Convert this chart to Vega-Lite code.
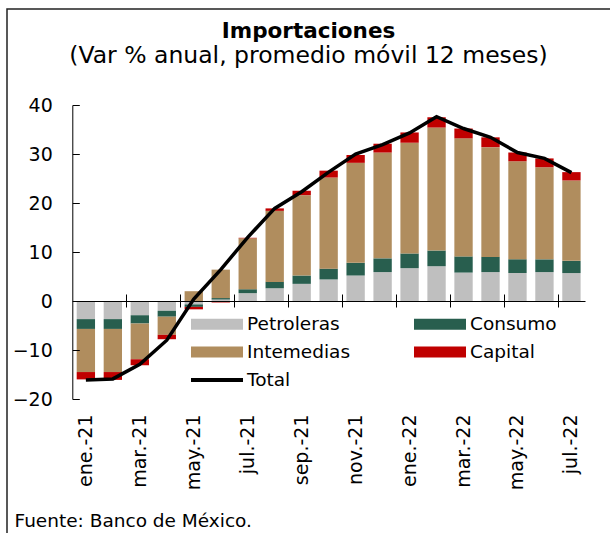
{
  "$schema": "https://vega.github.io/schema/vega-lite/v6.json",
  "width": 603,
  "height": 524,
  "autosize": {"type": "none"},
  "padding": {"left": 7, "top": 9, "right": 0, "bottom": 0},
  "background": "white",
  "view": {"stroke": "#222222", "strokeWidth": 1.5, "strokeDash": [603, 1127, 524], "fill": null},
  "config": {"font": "DejaVu Sans"},
  "title": {
    "text": "Importaciones",
    "subtitle": "(Var % anual, promedio móvil 12 meses)",
    "anchor": "middle",
    "frame": "group",
    "offset": -58,
    "font": "DejaVu Sans",
    "fontSize": 21.5,
    "fontWeight": "bold",
    "color": "black",
    "subtitleFont": "DejaVu Sans",
    "subtitleFontSize": 23.5,
    "subtitleColor": "black",
    "subtitlePadding": 1
  },
  "datasets": {
    "bars": [
      {"mes": "ene.-21", "serie": "Petroleras", "v": -3.7, "o": 1},
      {"mes": "ene.-21", "serie": "Consumo", "v": -2.0, "o": 2},
      {"mes": "ene.-21", "serie": "Intemedias", "v": -8.8, "o": 3},
      {"mes": "ene.-21", "serie": "Capital", "v": -1.5, "o": 4},
      {"mes": "feb.-21", "serie": "Petroleras", "v": -3.7, "o": 1},
      {"mes": "feb.-21", "serie": "Consumo", "v": -2.0, "o": 2},
      {"mes": "feb.-21", "serie": "Intemedias", "v": -8.8, "o": 3},
      {"mes": "feb.-21", "serie": "Capital", "v": -1.6, "o": 4},
      {"mes": "mar.-21", "serie": "Petroleras", "v": -2.9, "o": 1},
      {"mes": "mar.-21", "serie": "Consumo", "v": -1.7, "o": 2},
      {"mes": "mar.-21", "serie": "Intemedias", "v": -7.3, "o": 3},
      {"mes": "mar.-21", "serie": "Capital", "v": -1.2, "o": 4},
      {"mes": "abr.-21", "serie": "Petroleras", "v": -2.0, "o": 1},
      {"mes": "abr.-21", "serie": "Consumo", "v": -1.2, "o": 2},
      {"mes": "abr.-21", "serie": "Intemedias", "v": -3.7, "o": 3},
      {"mes": "abr.-21", "serie": "Capital", "v": -0.9, "o": 4},
      {"mes": "may.-21", "serie": "Petroleras", "v": -0.7, "o": 1},
      {"mes": "may.-21", "serie": "Consumo", "v": -0.5, "o": 2},
      {"mes": "may.-21", "serie": "Intemedias", "v": 2.0, "o": 3},
      {"mes": "may.-21", "serie": "Capital", "v": -0.5, "o": 4},
      {"mes": "jun.-21", "serie": "Petroleras", "v": 0.3, "o": 1},
      {"mes": "jun.-21", "serie": "Consumo", "v": 0.3, "o": 2},
      {"mes": "jun.-21", "serie": "Intemedias", "v": 5.8, "o": 3},
      {"mes": "jun.-21", "serie": "Capital", "v": -0.3, "o": 4},
      {"mes": "jul.-21", "serie": "Petroleras", "v": 1.6, "o": 1},
      {"mes": "jul.-21", "serie": "Consumo", "v": 0.8, "o": 2},
      {"mes": "jul.-21", "serie": "Intemedias", "v": 10.4, "o": 3},
      {"mes": "jul.-21", "serie": "Capital", "v": 0.1, "o": 4},
      {"mes": "ago.-21", "serie": "Petroleras", "v": 2.6, "o": 1},
      {"mes": "ago.-21", "serie": "Consumo", "v": 1.3, "o": 2},
      {"mes": "ago.-21", "serie": "Intemedias", "v": 14.5, "o": 3},
      {"mes": "ago.-21", "serie": "Capital", "v": 0.5, "o": 4},
      {"mes": "sep.-21", "serie": "Petroleras", "v": 3.5, "o": 1},
      {"mes": "sep.-21", "serie": "Consumo", "v": 1.7, "o": 2},
      {"mes": "sep.-21", "serie": "Intemedias", "v": 16.4, "o": 3},
      {"mes": "sep.-21", "serie": "Capital", "v": 0.9, "o": 4},
      {"mes": "oct.-21", "serie": "Petroleras", "v": 4.4, "o": 1},
      {"mes": "oct.-21", "serie": "Consumo", "v": 2.2, "o": 2},
      {"mes": "oct.-21", "serie": "Intemedias", "v": 18.6, "o": 3},
      {"mes": "oct.-21", "serie": "Capital", "v": 1.4, "o": 4},
      {"mes": "nov.-21", "serie": "Petroleras", "v": 5.2, "o": 1},
      {"mes": "nov.-21", "serie": "Consumo", "v": 2.6, "o": 2},
      {"mes": "nov.-21", "serie": "Intemedias", "v": 20.4, "o": 3},
      {"mes": "nov.-21", "serie": "Capital", "v": 1.6, "o": 4},
      {"mes": "dic.-21", "serie": "Petroleras", "v": 5.9, "o": 1},
      {"mes": "dic.-21", "serie": "Consumo", "v": 2.8, "o": 2},
      {"mes": "dic.-21", "serie": "Intemedias", "v": 21.6, "o": 3},
      {"mes": "dic.-21", "serie": "Capital", "v": 1.8, "o": 4},
      {"mes": "ene.-22", "serie": "Petroleras", "v": 6.7, "o": 1},
      {"mes": "ene.-22", "serie": "Consumo", "v": 3.0, "o": 2},
      {"mes": "ene.-22", "serie": "Intemedias", "v": 22.6, "o": 3},
      {"mes": "ene.-22", "serie": "Capital", "v": 2.1, "o": 4},
      {"mes": "feb.-22", "serie": "Petroleras", "v": 7.1, "o": 1},
      {"mes": "feb.-22", "serie": "Consumo", "v": 3.2, "o": 2},
      {"mes": "feb.-22", "serie": "Intemedias", "v": 25.1, "o": 3},
      {"mes": "feb.-22", "serie": "Capital", "v": 2.1, "o": 4},
      {"mes": "mar.-22", "serie": "Petroleras", "v": 5.8, "o": 1},
      {"mes": "mar.-22", "serie": "Consumo", "v": 3.3, "o": 2},
      {"mes": "mar.-22", "serie": "Intemedias", "v": 24.1, "o": 3},
      {"mes": "mar.-22", "serie": "Capital", "v": 2.0, "o": 4},
      {"mes": "abr.-22", "serie": "Petroleras", "v": 5.9, "o": 1},
      {"mes": "abr.-22", "serie": "Consumo", "v": 3.1, "o": 2},
      {"mes": "abr.-22", "serie": "Intemedias", "v": 22.4, "o": 3},
      {"mes": "abr.-22", "serie": "Capital", "v": 2.0, "o": 4},
      {"mes": "may.-22", "serie": "Petroleras", "v": 5.7, "o": 1},
      {"mes": "may.-22", "serie": "Consumo", "v": 2.8, "o": 2},
      {"mes": "may.-22", "serie": "Intemedias", "v": 20.0, "o": 3},
      {"mes": "may.-22", "serie": "Capital", "v": 1.8, "o": 4},
      {"mes": "jun.-22", "serie": "Petroleras", "v": 5.9, "o": 1},
      {"mes": "jun.-22", "serie": "Consumo", "v": 2.6, "o": 2},
      {"mes": "jun.-22", "serie": "Intemedias", "v": 18.8, "o": 3},
      {"mes": "jun.-22", "serie": "Capital", "v": 1.8, "o": 4},
      {"mes": "jul.-22", "serie": "Petroleras", "v": 5.7, "o": 1},
      {"mes": "jul.-22", "serie": "Consumo", "v": 2.5, "o": 2},
      {"mes": "jul.-22", "serie": "Intemedias", "v": 16.4, "o": 3},
      {"mes": "jul.-22", "serie": "Capital", "v": 1.7, "o": 4}
    ],
    "total": [
      {"mes": "ene.-21", "Total": -16.1},
      {"mes": "feb.-21", "Total": -15.9},
      {"mes": "mar.-21", "Total": -12.9},
      {"mes": "abr.-21", "Total": -8.0},
      {"mes": "may.-21", "Total": 0.4},
      {"mes": "jun.-21", "Total": 6.4},
      {"mes": "jul.-21", "Total": 13.0},
      {"mes": "ago.-21", "Total": 18.9},
      {"mes": "sep.-21", "Total": 22.3},
      {"mes": "oct.-21", "Total": 26.3},
      {"mes": "nov.-21", "Total": 30.0},
      {"mes": "dic.-21", "Total": 31.9},
      {"mes": "ene.-22", "Total": 34.3},
      {"mes": "feb.-22", "Total": 37.6},
      {"mes": "mar.-22", "Total": 35.2},
      {"mes": "abr.-22", "Total": 33.4},
      {"mes": "may.-22", "Total": 30.3},
      {"mes": "jun.-22", "Total": 29.1},
      {"mes": "jul.-22", "Total": 26.2}
    ]
  },
  "layer": [
    {
      "data": {"name": "bars"},
      "mark": {"type": "bar"},
      "encoding": {
        "x": {
          "field": "mes",
          "type": "nominal",
          "sort": null,
          "scale": {
            "domain": ["ene.-21", "feb.-21", "mar.-21", "abr.-21", "may.-21", "jun.-21", "jul.-21", "ago.-21", "sep.-21", "oct.-21", "nov.-21", "dic.-21", "ene.-22", "feb.-22", "mar.-22", "abr.-22", "may.-22", "jun.-22", "jul.-22"],
            "range": [65.3, 578],
            "paddingInner": 0.32,
            "paddingOuter": 0.163
          },
          "axis": {
            "orient": "bottom",
            "offset": -134,
            "values": ["ene.-21", "mar.-21", "may.-21", "jul.-21", "sep.-21", "nov.-21", "ene.-22", "mar.-22", "may.-22", "jul.-22"],
            "labelAngle": 270,
            "labelAlign": "right",
            "labelBaseline": "middle",
            "labelPadding": 15,
            "labelFont": "DejaVu Sans",
            "labelFontSize": 19,
            "labelColor": "black",
            "labelOverlap": false,
            "labelBound": false,
            "ticks": false,
            "tickSize": 0,
            "domain": false,
            "grid": false,
            "title": "Fuente: Banco de México.",
            "titleX": 7,
            "titleY": 127,
            "titleAnchor": "start",
            "titleAlign": "left",
            "titleBaseline": "alphabetic",
            "titleAngle": 0,
            "titleFont": "DejaVu Sans",
            "titleFontSize": 18.5,
            "titleFontWeight": "normal",
            "titleColor": "black"
          }
        },
        "y": {
          "field": "v",
          "type": "quantitative",
          "stack": "zero",
          "scale": {"domain": [-20, 40], "range": [390, 96], "nice": false},
          "axis": {
            "orient": "left",
            "offset": -65.3,
            "values": [-20, -10, 0, 10, 20, 30, 40],
            "tickSize": -7,
            "labelPadding": 27,
            "labelFont": "DejaVu Sans",
            "labelFontSize": 19,
            "labelColor": "black",
            "domainColor": "black",
            "tickColor": "black",
            "title": null,
            "grid": true,
            "gridColor": "black",
            "gridWidth": 1,
            "gridOpacity": {"condition": {"test": "datum.value === 0", "value": 1}, "value": 0},
            "zindex": 1
          }
        },
        "color": {
          "field": "serie",
          "type": "nominal",
          "scale": {
            "domain": ["Petroleras", "Consumo", "Intemedias", "Capital", "Total"],
            "range": ["#BFBFBF", "#285E4E", "#B08D5E", "#C00000", "#000000"]
          },
          "legend": {
            "orient": "none",
            "legendX": 184,
            "legendY": 302,
            "direction": "horizontal",
            "columns": 2,
            "title": null,
            "padding": 0,
            "labelFont": "DejaVu Sans",
            "labelFontSize": 18.5,
            "labelColor": "black",
            "symbolSize": 676,
            "symbolOffset": 13,
            "labelOffset": 17,
            "symbolType": "M-2,-0.42H2V0.42H-2Z",
            "symbolStrokeWidth": 0,
            "symbolOpacity": 1,
            "columnPadding": 63,
            "rowPadding": 5,
            "encode": {
              "symbols": {
                "update": {
                  "shape": {"signal": "datum.value === 'Total' ? 'M-2,-0.16H2V0.16H-2Z' : 'M-2,-0.42H2V0.42H-2Z'"}
                }
              }
            }
          }
        },
        "order": {"field": "o", "type": "quantitative"}
      }
    },
    {
      "data": {"name": "total"},
      "mark": {"type": "line", "color": "black", "strokeWidth": 3.5},
      "encoding": {
        "x": {
          "field": "mes",
          "type": "nominal",
          "sort": null,
          "axis": {
            "orient": "top",
            "offset": -298,
            "values": ["mar.-21", "may.-21", "jul.-21", "sep.-21", "nov.-21", "ene.-22", "mar.-22", "may.-22", "jul.-22"],
            "labels": false,
            "domain": false,
            "ticks": true,
            "tickSize": 13,
            "tickOffset": -13.49,
            "tickColor": "black",
            "tickWidth": 1,
            "grid": false,
            "title": null
          }
        },
        "y": {"field": "Total", "type": "quantitative"}
      }
    }
  ],
  "resolve": {"axis": {"x": "independent"}}
}
